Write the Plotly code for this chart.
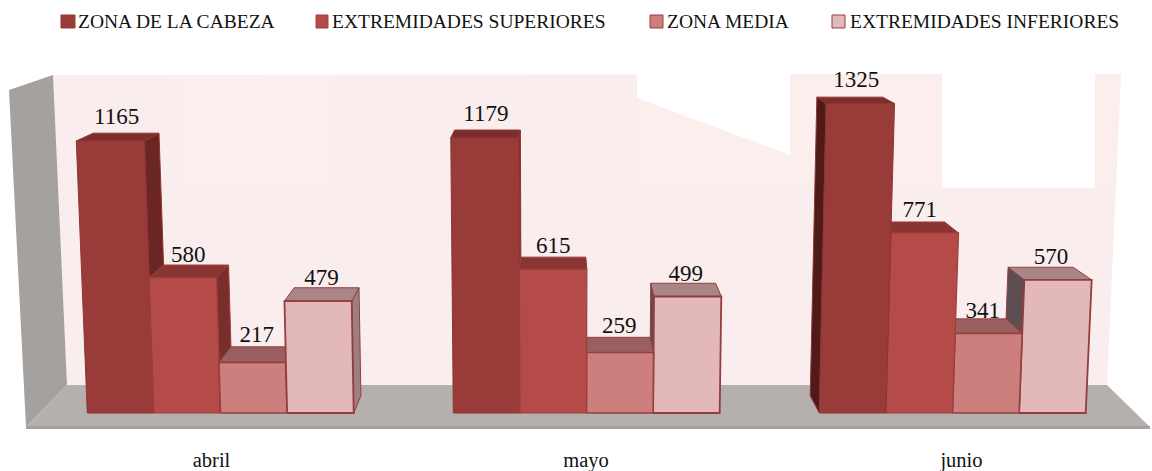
import plotly.graph_objects as go

months = ["abril", "mayo", "junio"]
series_names = ["ZONA DE LA CABEZA", "EXTREMIDADES SUPERIORES", "ZONA MEDIA", "EXTREMIDADES INFERIORES"]
cabeza = [1165, 1179, 1325]
superiores = [580, 615, 771]
media = [217, 259, 341]
inferiores = [479, 499, 570]
series_values = [cabeza, superiores, media, inferiores]

front_colors = ["#983b39", "#b54b48", "#cd7f7e", "#e2b8b8"]
top_colors = ["#7c2e2c", "#8b3533", "#9b5f60", "#a98588"]
side_colors_r = ["#6b2623", "#7a2e2c", "#85403f", "#9d7f82"]
side_colors_l = ["#4f1a17", "#6b2623", "#7a3a3a", "#5e4e50"]
edge_colors = ["#8c3634", "#9c3e3c", "#93403f", "#953c3e"]
edge_widths = [1, 1.2, 1.6, 1.8]

W, H, PLOT_H = 1152, 471, 440
PX_PER_UNIT_Y = 0.2335
BASE_PY = 413
GROUP_PX = 366.0
FIRST_PX = 220.5
VP_PX, VP_PY = 560.0, -81.0
DEPTH = 0.035
SKEW = 2.0e-5
BAR_PX = 66.6
TICK_PX = [211.5, 586.0, 961.5]


def x_unit(px):
    return (px - FIRST_PX) / GROUP_PX


def y_unit(py):
    return (BASE_PY - py) / PX_PER_UNIT_Y


def front_px(xb, v):
    return xb + (xb - VP_PX) * SKEW * v


def back(px, v):
    py = BASE_PY - v * PX_PER_UNIT_Y
    return px + (VP_PX - px) * DEPTH, py + (VP_PY - py) * DEPTH


def poly(pts, fill, line, width):
    return go.Scatter(
        x=[x_unit(p[0]) for p in pts] + [x_unit(pts[0][0])],
        y=[y_unit(p[1]) for p in pts] + [y_unit(pts[0][1])],
        mode="lines", fill="toself", fillcolor=fill,
        line=dict(color=line, width=width),
        hoverinfo="skip", showlegend=False,
    )


def py_of(v):
    return BASE_PY - v * PX_PER_UNIT_Y


def label_shift(v):
    return 7.5 - 0.009 * v if v >= 300 else 1.0


fig = go.Figure()
label_x, label_y, label_t = [], [], []
for g in range(len(months)):
    center = FIRST_PX + g * GROUP_PX
    order = sorted(range(4), key=lambda i: -abs(center + (i - 1.5) * BAR_PX - VP_PX))
    for i in order:
        v = series_values[i][g]
        xl = center + (i - 2) * BAR_PX
        xr = xl + BAR_PX
        fl0, fr0 = front_px(xl, 0), front_px(xr, 0)
        fl1, fr1 = front_px(xl, v), front_px(xr, v)
        py1 = py_of(v)
        bl1, br1 = back(fl1, v), back(fr1, v)
        e, w = edge_colors[i], edge_widths[i]
        if xr < VP_PX:
            fig.add_trace(poly([(fr1, py1), br1, back(fr0, 0), (fr0, BASE_PY)], side_colors_r[i], e, 1))
        elif xl > VP_PX:
            fig.add_trace(poly([(fl1, py1), bl1, back(fl0, 0), (fl0, BASE_PY)], side_colors_l[i], e, 1))
        fig.add_trace(poly([(fl1, py1), bl1, br1, (fr1, py1)], top_colors[i], e, 1))
        fig.add_trace(poly([(fl0, BASE_PY), (fl1, py1), (fr1, py1), (fr0, BASE_PY)], front_colors[i], e, w))
        label_x.append(x_unit((fl1 + fr1) / 2 * 0.6 + (bl1[0] + br1[0]) / 2 * 0.4))
        label_y.append(y_unit(bl1[1] + label_shift(v)))
        label_t.append(str(v))

FONT = "Liberation Serif"
fig.add_trace(go.Scatter(
    x=label_x, y=label_y, text=label_t, mode="text", textposition="top center",
    textfont=dict(family=FONT, size=23, color="#111111"),
    hoverinfo="skip", showlegend=False,
))


def path(pts):
    return "M " + " L ".join(f"{p[0] / W:.5f},{1 - p[1] / PLOT_H:.5f}" for p in pts) + " Z"


def bg(pts, color, line=None):
    return dict(type="path", xref="paper", yref="paper", path=path(pts), fillcolor=color,
                line=dict(color=line or color, width=1 if line else 0), layer="below")


shapes = [
    bg([(53, 75), (1121, 74), (1107, 385), (67, 385)], "#f9eded"),
    bg([(180, 75), (332, 75), (332, 188), (180, 188)], "#fdeeee"),
    bg([(637, 75), (942, 75), (942, 188), (637, 188)], "#fdeeee"),
    bg([(942, 75), (1121, 75), (1113, 188), (942, 188)], "#fdeeee"),
    bg([(637, 73), (790, 73), (790, 155), (637, 98)], "#ffffff"),
    bg([(942, 73), (1095, 73), (1095, 188), (942, 188)], "#ffffff"),
    bg([(9, 90), (53, 75), (67, 385), (26, 427)], "#a5a19e"),
    bg([(26, 427), (67, 385), (1107, 385), (1150, 427)], "#b5b0ae"),
    bg([(26, 426), (1150, 426), (1150, 429), (26, 429)], "#a3a09e"),
]

legend_items = [(61, 75, 78), (316, 328, 332), (650, 663, 667), (832, 845, 850)]
legend_edges = ["#963a38", "#a04341", "#93403f", "#953c3e"]
annotations = []
for k, (x0, x1, tx) in enumerate(legend_items):
    shapes.append(bg([(x0, 15), (x1, 15), (x1, 28), (x0, 28)], front_colors[k], legend_edges[k]))
    annotations.append(dict(
        xref="paper", yref="paper", x=tx / W, y=1 - 21 / PLOT_H, xanchor="left", yanchor="middle",
        text=series_names[k], showarrow=False, font=dict(family=FONT, size=19.5, color="#111111"),
        xshift=-2,
    ))

fig.update_layout(
    width=W, height=H, autosize=False,
    margin=dict(l=0, r=0, t=0, b=H - PLOT_H, pad=0),
    paper_bgcolor="white", plot_bgcolor="rgba(0,0,0,0)",
    showlegend=False, shapes=shapes, annotations=annotations,
    xaxis=dict(range=[x_unit(0), x_unit(W)], tickmode="array", tickvals=[x_unit(p) for p in TICK_PX], ticktext=months,
               automargin=False, showgrid=False, zeroline=False, showline=False, ticks="outside", ticklen=1,
               tickcolor="rgba(0,0,0,0)", tickfont=dict(family=FONT, size=20.5, color="#111111")),
    yaxis=dict(range=[y_unit(PLOT_H), y_unit(0)], visible=False, showgrid=False, zeroline=False, automargin=False),
)
fig.write_html("out.html", post_script="document.body.style.margin='0';",
               config={"displayModeBar": False})
